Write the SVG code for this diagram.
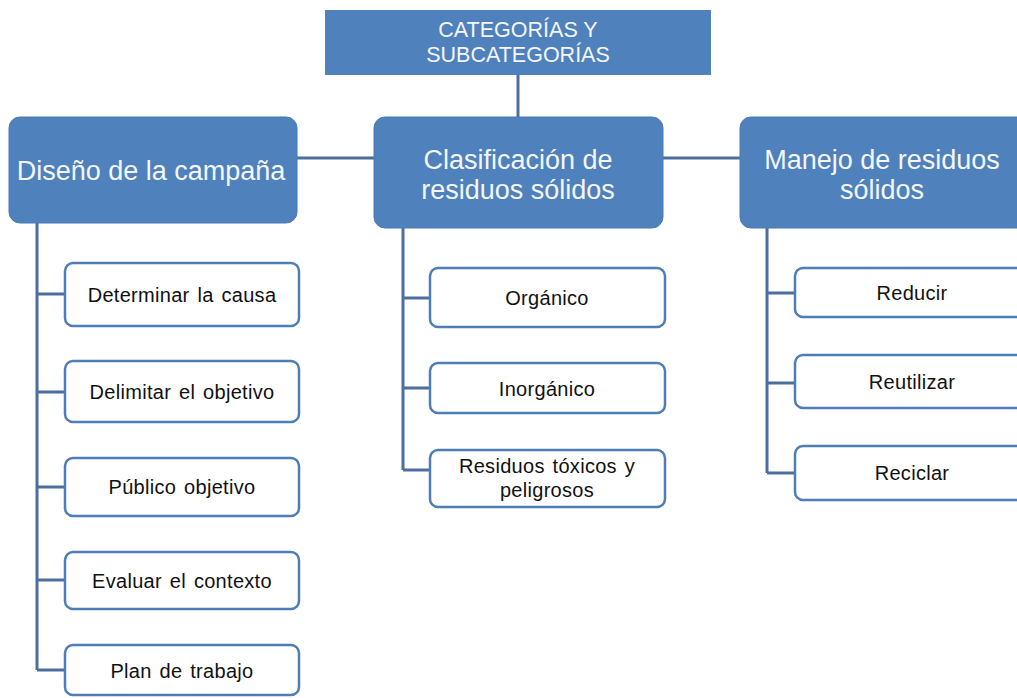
<svg xmlns="http://www.w3.org/2000/svg" width="1017" height="698" viewBox="0 0 1017 698">
<style>
.main{fill:#4f81bd;stroke:#4a7ab5;stroke-width:1}
.mt{font-family:"Liberation Sans",Arial,sans-serif;font-size:27px;fill:#f4f6fa;text-anchor:middle}
.tt{font-family:"Liberation Sans",Arial,sans-serif;font-size:21.5px;fill:#f4f6fa;text-anchor:middle}
.child{fill:#ffffff;stroke:#4f7db5;stroke-width:2.5}
.ct{font-family:"Liberation Sans",Arial,sans-serif;font-size:20px;fill:#111111;text-anchor:middle;letter-spacing:0.3px;word-spacing:2px}
.conn{fill:none;stroke:#4c6f9f;stroke-width:3}
</style>
<rect width="1017" height="698" fill="#ffffff"/>
<g id="connectors">
<path class="conn" d="M518 75 V117"/>
<path class="conn" d="M297 158 H374"/>
<path class="conn" d="M663 158 H740"/>
<path class="conn" d="M37 223 V670 M37 294 H65 M37 392 H65 M37 487 H65 M37 580 H65 M37 670 H65"/>
<path class="conn" d="M403 228 V470 M403 298 H430 M403 388 H430 M403 470 H430"/>
<path class="conn" d="M767 228 V473 M767 293 H795 M767 383 H795 M767 473 H795"/>
</g>
<g id="root">
<rect x="325" y="10" width="386" height="65" fill="#4f81bd"/>
<text class="tt" x="518" y="37">CATEGORÍAS Y</text>
<text class="tt" x="518" y="62">SUBCATEGORÍAS</text>
</g>
<g id="diseno">
<rect class="main" x="9" y="117" width="288" height="106" rx="11"/>
<text class="mt" x="151" y="180">Diseño de la campaña</text>
</g>
<g id="clasificacion">
<rect class="main" x="374" y="117" width="289" height="111" rx="11"/>
<text class="mt" x="518" y="169">Clasificación de</text>
<text class="mt" x="518" y="199">residuos sólidos</text>
</g>
<g id="manejo">
<rect class="main" x="740" y="117" width="290" height="111" rx="11"/>
<text class="mt" x="882" y="169">Manejo de residuos</text>
<text class="mt" x="882" y="199">sólidos</text>
</g>
<g id="determinar">
<rect class="child" x="65" y="263" width="234" height="63" rx="8"/>
<text class="ct" x="182" y="302">Determinar la causa</text>
</g>
<g id="delimitar">
<rect class="child" x="65" y="361" width="234" height="61" rx="8"/>
<text class="ct" x="182" y="399">Delimitar el objetivo</text>
</g>
<g id="publico">
<rect class="child" x="65" y="458" width="234" height="58" rx="8"/>
<text class="ct" x="182" y="494">Público objetivo</text>
</g>
<g id="evaluar">
<rect class="child" x="65" y="552" width="234" height="57" rx="8"/>
<text class="ct" x="182" y="588">Evaluar el contexto</text>
</g>
<g id="plan">
<rect class="child" x="65" y="645" width="234" height="50" rx="8"/>
<text class="ct" x="182" y="678">Plan de trabajo</text>
</g>
<g id="organico">
<rect class="child" x="430" y="268" width="235" height="59" rx="8"/>
<text class="ct" x="547" y="305">Orgánico</text>
</g>
<g id="inorganico">
<rect class="child" x="430" y="363" width="235" height="50" rx="8"/>
<text class="ct" x="547" y="396">Inorgánico</text>
</g>
<g id="toxicos">
<rect class="child" x="430" y="450" width="235" height="57" rx="8"/>
<text class="ct" x="547" y="473">Residuos tóxicos y</text>
<text class="ct" x="547" y="497">peligrosos</text>
</g>
<g id="reducir">
<rect class="child" x="795" y="268" width="235" height="49" rx="8"/>
<text class="ct" x="912" y="300">Reducir</text>
</g>
<g id="reutilizar">
<rect class="child" x="795" y="355" width="235" height="53" rx="8"/>
<text class="ct" x="912" y="389">Reutilizar</text>
</g>
<g id="reciclar">
<rect class="child" x="795" y="446" width="235" height="54" rx="8"/>
<text class="ct" x="912" y="480">Reciclar</text>
</g>
</svg>
